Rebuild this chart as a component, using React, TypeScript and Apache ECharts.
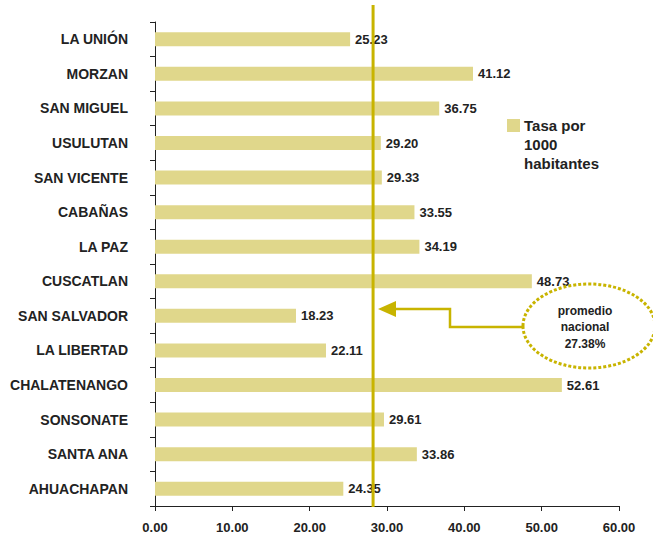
import React, { useEffect, useRef } from "react";
import * as echarts from "echarts";

const categories = [
  "LA UNIÓN",
  "MORZAN",
  "SAN MIGUEL",
  "USULUTAN",
  "SAN VICENTE",
  "CABAÑAS",
  "LA PAZ",
  "CUSCATLAN",
  "SAN SALVADOR",
  "LA LIBERTAD",
  "CHALATENANGO",
  "SONSONATE",
  "SANTA ANA",
  "AHUACHAPAN",
];
const values = [25.23, 41.12, 36.75, 29.2, 29.33, 33.55, 34.19, 48.73, 18.23, 22.11, 52.61, 29.61, 33.86, 24.35];
const seriesName = "Tasa por\n1000\nhabitantes";
const averageLinePosition = 28.2;
const averageLabel = "promedio\nnacional\n27.38%";

const FONT = "Liberation Sans, Arial, sans-serif";
const OLIVE = "#c8b400";
const BAR = "#e0d78b";

export default function App() {
  const ref = useRef<HTMLDivElement>(null);
  useEffect(() => {
    document.body.style.margin = "0";
    const chart = echarts.init(ref.current!, null, { renderer: "svg" });
    chart.setOption({
      animation: false,
      grid: { left: 155, right: 34, top: 22, bottom: 32 },
      legend: { show: false },
      xAxis: {
        type: "value",
        min: 0,
        max: 60,
        interval: 10,
        splitLine: { show: false },
        axisLine: { show: true, lineStyle: { color: "#222", width: 1 } },
        axisTick: { show: true, length: 5, lineStyle: { color: "#222" } },
        axisLabel: {
          formatter: (v: number) => v.toFixed(2),
          fontFamily: FONT,
          fontWeight: "bold",
          fontSize: 13,
          color: "#222",
          margin: 15,
        },
      },
      yAxis: {
        type: "category",
        data: categories,
        inverse: true,
        axisLine: { show: true, lineStyle: { color: "#222", width: 1 } },
        axisTick: { show: true, length: 5, inside: false, lineStyle: { color: "#222" } },
        axisLabel: {
          fontFamily: FONT,
          fontWeight: "bold",
          fontSize: 14,
          color: "#222",
          margin: 27,
        },
      },
      series: [
        {
          name: seriesName,
          type: "bar",
          data: values,
          barWidth: 14,
          itemStyle: { color: BAR },
          label: {
            show: true,
            position: "right",
            distance: 5,
            formatter: (p: any) => p.value.toFixed(2),
            fontFamily: FONT,
            fontWeight: "bold",
            fontSize: 13,
            color: "#222",
          },
        },
      ],
    });
    const xAvg = chart.convertToPixel({ xAxisIndex: 0 }, averageLinePosition) as number;
    chart.setOption({
      graphic: [
        {
          type: "rect",
          shape: { x: 507, y: 119, width: 13, height: 13 },
          style: { fill: BAR },
        },
        {
          type: "text",
          x: 524,
          y: 116,
          style: {
            text: seriesName,
            fontFamily: FONT,
            fontWeight: "bold",
            fontSize: 15,
            lineHeight: 19,
            fill: "#222",
            align: "left",
            verticalAlign: "top",
          },
        },
        {
          type: "line",
          shape: { x1: xAvg, y1: 5, x2: xAvg, y2: 507 },
          style: { stroke: OLIVE, lineWidth: 3 },
          z: 100,
        },
        {
          type: "polyline",
          shape: { points: [[523, 327], [450, 327], [450, 309], [392, 309]] },
          style: { stroke: OLIVE, lineWidth: 2.5, fill: null },
          z: 100,
        },
        {
          type: "polygon",
          shape: { points: [[378, 309], [396, 301], [396, 317]] },
          style: { fill: OLIVE },
          z: 100,
        },
        {
          type: "ellipse",
          shape: { cx: 589, cy: 326, rx: 66, ry: 42 },
          style: { stroke: OLIVE, lineWidth: 3, lineDash: [3, 2], fill: null },
          z: 100,
        },
        {
          type: "text",
          x: 585,
          y: 327,
          style: {
            text: averageLabel,
            fontFamily: FONT,
            fontWeight: "bold",
            fontSize: 12,
            lineHeight: 16.5,
            fill: "#222",
            align: "center",
            verticalAlign: "middle",
          },
          z: 100,
        },
      ],
    });
    return () => chart.dispose();
  }, []);
  return <div ref={ref} style={{ width: 653, height: 538 }} />;
}
